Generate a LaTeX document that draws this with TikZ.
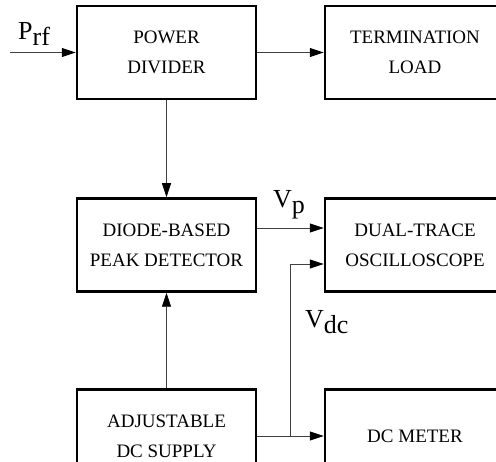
\documentclass[tikz,border=0pt]{standalone}
\usepackage{fontspec}
\setmainfont{Liberation Serif}
\usetikzlibrary{arrows.meta,positioning}
\newcommand{\lowsub}[1]{\raisebox{-6pt}{#1}}

\begin{document}
\begin{tikzpicture}[x=1pt,y=-1pt,
  every node/.style={font=\fontsize{19}{30}\selectfont},
  block/.style={draw,line width=2.5pt,minimum width=179pt,minimum height=93pt,align=center,inner sep=0pt},
  wide/.style={minimum width=180pt},
  link/.style={draw=black!75,line width=.8pt,-{Triangle[length=14pt,width=9pt,color=black]}},
  sig/.style={font=\fontsize{26}{26}\selectfont,inner sep=0pt}]
\useasboundingbox (0,0) rectangle (496,462);
\clip (0,0) rectangle (496,462);
% blocks
\node[block] (div) at (166.5,52.5) {POWER\\DIVIDER};
\node[block,wide] (term) at (415,52.5) {TERMINATION\\LOAD};
\node[block] (det) at (166.5,245) {DIODE-BASED\\PEAK DETECTOR};
\node[block,wide] (osc) at (415,245) {DUAL-TRACE\\OSCILLOSCOPE};
\node[block] (sup) at (166.5,436) {ADJUSTABLE\\DC SUPPLY};
\node[block,wide] (met) at (415,436) {DC METER};
% signals
\coordinate (rfin) at (10,52.5);
\coordinate (br) at (290,436);
\draw[link] (rfin) -- (div.west);
\draw[link] (div) -- (term);
\draw[link] (div) -- (det);
\draw[link] (sup) -- (det);
\draw[link] ([yshift=17pt]det.east) -- ([yshift=17pt]osc.west);
\draw[link] (sup) -- (met);
\draw[link] (br) |- ([yshift=-19pt]osc.west);
% labels
\node[sig,anchor=base west] (prf) at (18,40) {P\lowsub{rf}};
\node[sig,anchor=base west] (vp) at (273,208) {V\lowsub{p}};
\node[sig,anchor=base west] (vdc) at (305,328) {V\lowsub{dc}};
\end{tikzpicture}
\end{document}
